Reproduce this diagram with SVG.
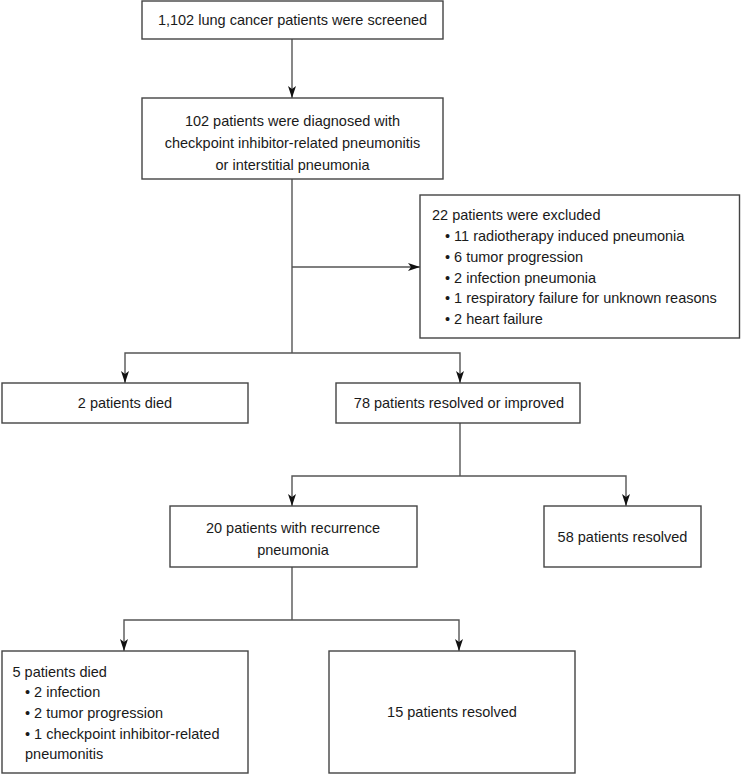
<svg xmlns="http://www.w3.org/2000/svg" width="741" height="774" viewBox="0 0 741 774">
<style>
.box{fill:#fff;stroke:#444;stroke-width:1.4}
.con{fill:none;stroke:#555;stroke-width:1.4}
text{font-family:"Liberation Sans",Arial,sans-serif;font-size:14.5px;fill:#1a1a1a}
.c{text-anchor:middle}
</style>
<defs>
<marker id="ah" markerUnits="userSpaceOnUse" viewBox="0 0 12 8" refX="12" refY="4" markerWidth="12" markerHeight="8" orient="auto">
<path d="M0,0 L12,4 L0,8 L3,4 z" fill="#111"/>
</marker>
</defs>
<rect width="741" height="774" fill="#fff"/>
<g id="connectors">
<path class="con" d="M292,39 V98" marker-end="url(#ah)"/>
<path class="con" d="M292,179 V353"/>
<path class="con" d="M292,267 H420" marker-end="url(#ah)"/>
<path class="con" d="M292,353 H125 V383" marker-end="url(#ah)"/>
<path class="con" d="M292,353 H460 V383" marker-end="url(#ah)"/>
<path class="con" d="M460,423 V476"/>
<path class="con" d="M460,476 H292 V506" marker-end="url(#ah)"/>
<path class="con" d="M460,476 H626 V506" marker-end="url(#ah)"/>
<path class="con" d="M292,567 V620"/>
<path class="con" d="M292,620 H124 V651" marker-end="url(#ah)"/>
<path class="con" d="M292,620 H459 V651" marker-end="url(#ah)"/>
</g>
<g id="screened">
<rect class="box" x="142" y="1" width="301" height="38"/>
<text class="c" x="292.5" y="25">1,102 lung cancer patients were screened</text>
</g>
<g id="diagnosed">
<rect class="box" x="142" y="98" width="301" height="81"/>
<text class="c" x="292.5" y="126">102 patients were diagnosed with</text>
<text class="c" x="292.5" y="148">checkpoint inhibitor-related pneumonitis</text>
<text class="c" x="292.5" y="170">or interstitial pneumonia</text>
</g>
<g id="excluded">
<rect class="box" x="420" y="195" width="319.5" height="143"/>
<text x="432" y="220">22 patients were excluded</text>
<text x="445" y="241">• 11 radiotherapy induced pneumonia</text>
<text x="445" y="262">• 6 tumor progression</text>
<text x="445" y="283">• 2 infection pneumonia</text>
<text x="445" y="303">• 1 respiratory failure for unknown reasons</text>
<text x="445" y="324">• 2 heart failure</text>
</g>
<g id="died2">
<rect class="box" x="2" y="383" width="246" height="40"/>
<text class="c" x="125" y="408">2 patients died</text>
</g>
<g id="improved78">
<rect class="box" x="336" y="383" width="244" height="40"/>
<text class="c" x="459" y="408">78 patients resolved or improved</text>
</g>
<g id="recurrence20">
<rect class="box" x="170" y="506" width="247" height="61"/>
<text class="c" x="293" y="533">20 patients with recurrence</text>
<text class="c" x="293" y="555">pneumonia</text>
</g>
<g id="resolved58">
<rect class="box" x="544" y="506" width="157" height="61"/>
<text class="c" x="622.5" y="542">58 patients resolved</text>
</g>
<g id="died5">
<rect class="box" x="2" y="651" width="246" height="122"/>
<text x="12.5" y="677">5 patients died</text>
<text x="25" y="697">• 2 infection</text>
<text x="25" y="718">• 2 tumor progression</text>
<text x="25" y="739">• 1 checkpoint inhibitor-related</text>
<text x="25" y="759">pneumonitis</text>
</g>
<g id="resolved15">
<rect class="box" x="329" y="651" width="246" height="122"/>
<text class="c" x="452" y="717">15 patients resolved</text>
</g>
</svg>
